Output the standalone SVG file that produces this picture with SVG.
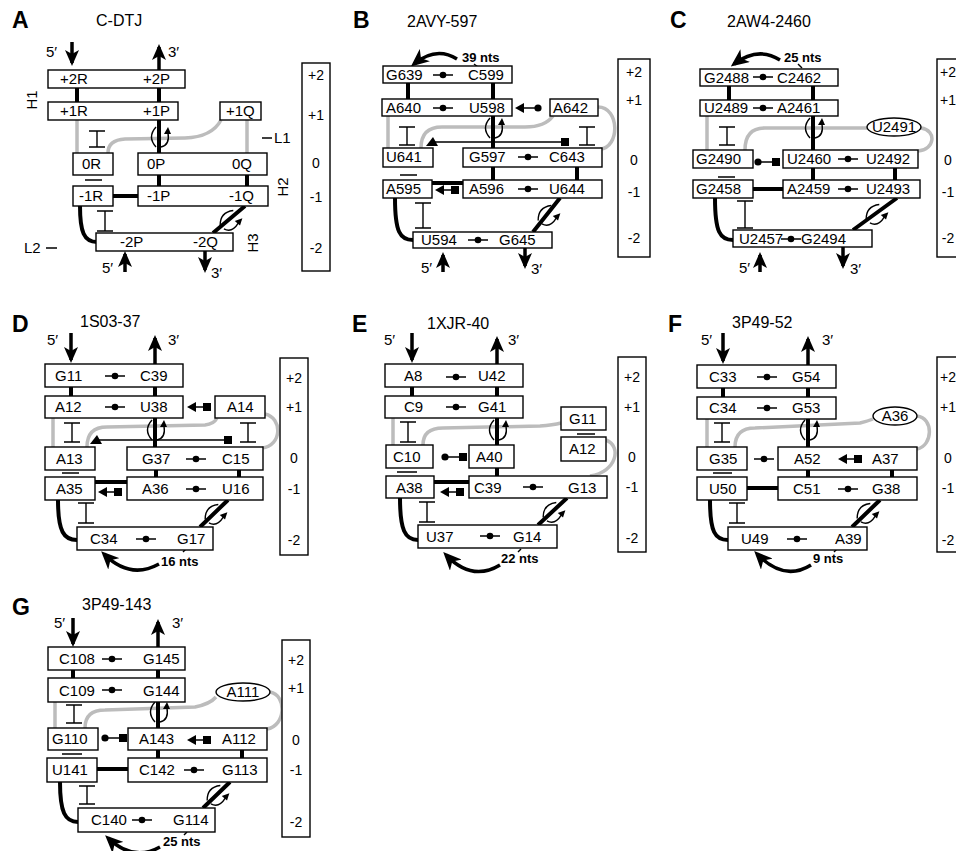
<svg xmlns="http://www.w3.org/2000/svg" width="956" height="851" viewBox="0 0 956 851">
<defs>
<style>
.b{fill:#fff;stroke:#000;stroke-width:1.4}
.t{font-family:"Liberation Sans",Arial,Helvetica,sans-serif;font-size:15px;fill:#000}
.ti{font-family:"Liberation Sans",Arial,Helvetica,sans-serif;font-size:16px;fill:#000}
.m{text-anchor:middle}
.s{font-family:"Liberation Sans",Arial,sans-serif;font-size:14px;fill:#000;text-anchor:middle}
.L{font-family:"Liberation Sans",Arial,sans-serif;font-size:23px;font-weight:bold;fill:#000}
.n{font-family:"Liberation Sans",Arial,sans-serif;font-size:13px;font-weight:bold;fill:#000}
.k{fill:none;stroke:#000;stroke-width:4}
.g{fill:none;stroke:#bcbcbc;stroke-width:3.5}
.h{fill:none;stroke:#000;stroke-width:1.4}
.a{fill:none;stroke:#000;stroke-width:3.5;marker-end:url(#ah)}
.c{fill:none;stroke:#000;stroke-width:3.5;marker-end:url(#ah2)}
</style>
<marker id="ah" viewBox="0 0 16 14" refX="13" refY="7" markerWidth="16" markerHeight="14" markerUnits="userSpaceOnUse" orient="auto"><path d="M0,0 L16,7 L0,14 L4,7 Z"/></marker>
<marker id="ah2" viewBox="0 0 18 16" refX="14" refY="8" markerWidth="18" markerHeight="16" markerUnits="userSpaceOnUse" orient="auto"><path d="M0,0 L18,8 L0,16 L5,8 Z"/></marker>
<g id="bp"><line x1="-10" x2="10" stroke="#000" stroke-width="1.5"/><circle r="3.3"/></g>
<g id="ac"><path d="M0,0 L9,-5 L9,5 Z"/><line x1="8" x2="23" stroke="#000" stroke-width="1.5"/><circle cx="23" r="3.6"/></g>
<g id="as"><path d="M0,0 L9,-5 L9,5 Z"/><line x1="8" x2="17" stroke="#000" stroke-width="1.5"/><rect x="16" y="-4" width="8" height="8"/></g>
<g id="cs"><circle r="3.6"/><line x2="15" stroke="#000" stroke-width="1.5"/><rect x="14" y="-4" width="8" height="8"/></g>
<g id="cr" fill="none" stroke="#000" stroke-width="1.4"><path d="M-3,-10 Q-12,0 -3,10"/><path d="M2,10 Q11,8 9,-4"/><path d="M9,-10 L5,-3 L12,-3 Z" fill="#000" stroke="none"/></g>
</defs>
<rect width="956" height="851" fill="#fff"/>

<!-- ================= PANEL A ================= -->
<g id="panelA">
<g id="A-connectors">
<path class="g" d="M77,120 V153 M221,120 Q212,137 185,138 L125,139 Q108,140 108,153 M247,120 V153"/>
<path class="k" d="M77,88 V102 M159,88 V102 M159,120 V153 M159,175 V186 M247,175 V186 M113,196 H138 M80,206 C80,232 84,242 97,242 M245,206 L213,233"/>
<path class="h" d="M89,131 H105 M97,131 V147 M89,147 H105 M85,180 H102 M97,211 H113 M105,211 V231 M97,231 H113 M262,138 H272 M46,248 H57"/>
<path class="a" d="M72,42 V63"/>
<path class="a" d="M159,70 V47"/>
<path class="a" d="M125,272 V254"/>
<path class="a" d="M205,251 V270"/>
<use href="#cr" x="159" y="137"/>
<use href="#cr" transform="translate(229,220) rotate(41)"/>
</g>
<text class="L" x="12" y="28">A</text>
<text class="ti" x="96" y="26">C-DTJ</text>
<text class="t" x="46" y="57">5′</text>
<text class="t" x="168" y="57">3′</text>
<text class="t" x="102" y="273">5′</text>
<text class="t" x="211" y="278">3′</text>
<text class="t" x="274" y="143">L1</text>
<text class="t" x="24" y="253">L2</text>
<text class="t m" transform="translate(37,100) rotate(-90)">H1</text>
<text class="t m" transform="translate(288,187) rotate(-90)">H2</text>
<text class="t m" transform="translate(258,243) rotate(-90)">H3</text>
<g id="A-p2"><rect class="b" x="48" y="70" width="137" height="18"/><text class="t" x="60" y="84">+2R</text><text class="t" x="143" y="84">+2P</text></g>
<g id="A-p1"><rect class="b" x="48" y="102" width="130" height="18"/><text class="t" x="60" y="116">+1R</text><text class="t" x="143" y="116">+1P</text></g>
<g id="A-p1Q"><rect class="b" x="220" y="102" width="41" height="18"/><text class="t" x="226" y="116">+1Q</text></g>
<g id="A-0R"><rect class="b" x="73" y="153" width="40" height="22"/><text class="t" x="82" y="169">0R</text></g>
<g id="A-0PQ"><rect class="b" x="138" y="153" width="129" height="22"/><text class="t" x="147" y="169">0P</text><text class="t" x="232" y="169">0Q</text></g>
<g id="A-m1R"><rect class="b" x="73" y="186" width="40" height="20"/><text class="t" x="79" y="201">-1R</text></g>
<g id="A-m1PQ"><rect class="b" x="138" y="186" width="130" height="20"/><text class="t" x="147" y="201">-1P</text><text class="t" x="229" y="201">-1Q</text></g>
<g id="A-m2"><rect class="b" x="96" y="233" width="137" height="18"/><text class="t" x="120" y="247">-2P</text><text class="t" x="193" y="247">-2Q</text></g>
<g id="A-levels"><rect class="b" x="302" y="63" width="28" height="208"/><text class="s" x="316" y="80">+2</text><text class="s" x="316" y="120">+1</text><text class="s" x="316" y="168">0</text><text class="s" x="316" y="202">-1</text><text class="s" x="316" y="253">-2</text></g>
</g>

<!-- ================= PANEL B ================= -->
<g id="panelB">
<g id="B-connectors">
<path class="g" d="M388,116 V148 M421,148 Q421,127 442,127 L525,127 Q545,127 553,116 M598,107 C620,107 620,148 600,149"/>
<path class="k" d="M408,83 V99 M493,83 V99 M493,116 V148 M493,167 V180 M577,167 V180 M432,183 H463 M395,198 C395,232 400,240 413,240 M560,198 L533,232"/>
<path class="h" d="M399,127 H415 M407,127 V145 M399,145 H415 M579,127 H595 M587,127 V145 M579,145 H595 M434,142 H562 M400,175 H417 M415,203 H431 M423,203 V228 M415,228 H431"/>
<rect x="561" y="138" width="8" height="8"/>
<polygon points="426,146 438,146 433,137"/>
<path class="c" d="M457,59 Q436,46 414,64"/>
<path class="h" d="M474,64 L478,67"/>
<path class="a" d="M443,272 V255"/>
<path class="a" d="M525,248 V266"/>
<use href="#ac" x="515" y="108"/>
<use href="#as" x="435" y="190"/>
<use href="#cr" x="493" y="128"/>
<use href="#cr" transform="translate(547,215) rotate(41)"/>
</g>
<text class="L" x="353" y="28">B</text>
<text class="ti" x="407" y="27">2AVY-597</text>
<text class="n" x="462" y="62">39 nts</text>
<text class="t" x="421" y="273">5′</text>
<text class="t" x="531" y="274">3′</text>
<g id="B-p2"><rect class="b" x="383" y="66" width="129" height="17"/><text class="t" x="386" y="80">G639</text><use href="#bp" x="443" y="75"/><text class="t" x="468" y="80">C599</text></g>
<g id="B-p1"><rect class="b" x="382" y="99" width="130" height="17"/><text class="t" x="386" y="113">A640</text><use href="#bp" x="443" y="108"/><text class="t" x="469" y="113">U598</text></g>
<g id="B-A642"><rect class="b" x="550" y="99" width="48" height="17"/><text class="t" x="553" y="113">A642</text></g>
<g id="B-U641"><rect class="b" x="383" y="148" width="50" height="19"/><text class="t" x="386" y="162">U641</text></g>
<g id="B-0"><rect class="b" x="463" y="148" width="139" height="19"/><text class="t" x="469" y="162">G597</text><use href="#bp" x="528" y="157"/><text class="t" x="549" y="162">C643</text></g>
<g id="B-A595"><rect class="b" x="383" y="180" width="49" height="18"/><text class="t" x="386" y="194">A595</text></g>
<g id="B-m1"><rect class="b" x="463" y="180" width="139" height="18"/><text class="t" x="469" y="194">A596</text><use href="#bp" x="528" y="189"/><text class="t" x="549" y="194">U644</text></g>
<g id="B-m2"><rect class="b" x="413" y="232" width="139" height="16"/><text class="t" x="421" y="245">U594</text><use href="#bp" x="478" y="240"/><text class="t" x="499" y="245">G645</text></g>
<g id="B-levels"><rect class="b" x="618" y="59" width="32" height="198"/><text class="s" x="634" y="77">+2</text><text class="s" x="634" y="105">+1</text><text class="s" x="634" y="165">0</text><text class="s" x="634" y="197">-1</text><text class="s" x="634" y="243">-2</text></g>
</g>

<!-- ================= PANEL C ================= -->
<g id="panelC">
<g id="C-connectors">
<path class="g" d="M707,116 V150 M745,150 Q745,128 765,128 L867,128 M921,128 C937,130 935,150 918,151"/>
<path class="k" d="M729,86 V100 M813,86 V100 M813,116 V150 M813,168 V180 M895,168 V180 M753,189 H783 M715,198 C715,232 720,240 733,240 M897,198 L853,230"/>
<path class="h" d="M719,127 H735 M727,127 V145 M719,145 H735 M718,177 H735 M737,201 H753 M745,201 V228 M737,228 H753"/>
<path class="c" d="M780,60 Q758,46 734,64"/>
<path class="h" d="M798,64 L802,68"/>
<path class="a" d="M760,272 V255"/>
<path class="a" d="M843,247 V266"/>
<use href="#cs" x="758" y="162"/>
<use href="#cr" x="813" y="128"/>
<use href="#cr" transform="translate(875,214) rotate(41)"/>
</g>
<text class="L" x="670" y="28">C</text>
<text class="ti" x="727" y="27">2AW4-2460</text>
<text class="n" x="784" y="62">25 nts</text>
<text class="t" x="739" y="273">5′</text>
<text class="t" x="850" y="274">3′</text>
<g id="C-p2"><rect class="b" x="700" y="69" width="138" height="17"/><text class="t" x="704" y="83">G2488</text><use href="#bp" x="763" y="77"/><text class="t" x="777" y="83">C2462</text></g>
<g id="C-p1"><rect class="b" x="700" y="100" width="138" height="16"/><text class="t" x="704" y="113">U2489</text><use href="#bp" x="763" y="108"/><text class="t" x="777" y="113">A2461</text></g>
<g id="C-U2491"><ellipse class="b" cx="894" cy="127" rx="27" ry="9"/><text class="t m" x="894" y="132">U2491</text></g>
<g id="C-G2490"><rect class="b" x="693" y="150" width="60" height="18"/><text class="t" x="696" y="164">G2490</text></g>
<g id="C-0"><rect class="b" x="783" y="150" width="135" height="18"/><text class="t" x="787" y="164">U2460</text><use href="#bp" x="848" y="159"/><text class="t" x="866" y="164">U2492</text></g>
<g id="C-G2458"><rect class="b" x="693" y="180" width="60" height="18"/><text class="t" x="696" y="194">G2458</text></g>
<g id="C-m1"><rect class="b" x="783" y="180" width="137" height="18"/><text class="t" x="787" y="194">A2459</text><use href="#bp" x="848" y="189"/><text class="t" x="866" y="194">U2493</text></g>
<g id="C-m2"><rect class="b" x="733" y="230" width="139" height="17"/><text class="t" x="739" y="244">U2457</text><use href="#bp" x="791" y="239"/><text class="t" x="801" y="244">G2494</text></g>
<g id="C-levels"><rect class="b" x="937" y="59" width="40" height="198"/><text class="s" x="948" y="77">+2</text><text class="s" x="948" y="105">+1</text><text class="s" x="948" y="165">0</text><text class="s" x="948" y="197">-1</text><text class="s" x="948" y="243">-2</text></g>
</g>

<!-- ================= PANEL D ================= -->
<g id="panelD">
<g id="D-connectors">
<path class="g" d="M53,418 V447 M87,447 Q87,427 107,427 L205,425 Q214,424 217,418 M265,414 C283,418 282,446 262,448"/>
<path class="k" d="M71,387 V396 M155,387 V396 M155,418 V447 M156,470 V477 M239,470 V477 M95,482 H127 M58,500 C58,532 64,540 77,540 M228,500 L200,527"/>
<path class="h" d="M64,423 H80 M72,423 V442 M64,442 H80 M240,423 H256 M248,423 V442 M240,442 H256 M97,440 H225 M62,473 H79 M78,503 H94 M86,503 V523 M78,523 H94"/>
<rect x="224" y="436" width="8" height="8"/>
<polygon points="90,444 102,444 97,435"/>
<path class="a" d="M71,333 V360"/>
<path class="a" d="M155,364 V338"/>
<path class="c" d="M159,564 Q130,580 104,554"/>
<path class="h" d="M183,552 L186,549"/>
<use href="#as" x="187" y="407"/>
<use href="#as" x="98" y="492"/>
<use href="#cr" x="155" y="430"/>
<use href="#cr" transform="translate(214,514) rotate(41)"/>
</g>
<text class="L" x="12" y="332">D</text>
<text class="ti" x="80" y="327">1S03-37</text>
<text class="t" x="47" y="345">5′</text>
<text class="t" x="168" y="345">3′</text>
<text class="n" x="161" y="566">16 nts</text>
<g id="D-p2"><rect class="b" x="45" y="364" width="138" height="23"/><text class="t" x="55" y="381">G11</text><use href="#bp" x="115" y="376"/><text class="t" x="140" y="381">C39</text></g>
<g id="D-p1"><rect class="b" x="45" y="396" width="138" height="22"/><text class="t" x="55" y="412">A12</text><use href="#bp" x="115" y="407"/><text class="t" x="140" y="412">U38</text></g>
<g id="D-A14"><rect class="b" x="215" y="396" width="50" height="22"/><text class="t" x="227" y="412">A14</text></g>
<g id="D-A13"><rect class="b" x="45" y="447" width="50" height="23"/><text class="t" x="56" y="464">A13</text></g>
<g id="D-0"><rect class="b" x="127" y="447" width="136" height="23"/><text class="t" x="142" y="464">G37</text><use href="#bp" x="196" y="459"/><text class="t" x="222" y="464">C15</text></g>
<g id="D-A35"><rect class="b" x="45" y="477" width="50" height="23"/><text class="t" x="56" y="494">A35</text></g>
<g id="D-m1"><rect class="b" x="127" y="477" width="136" height="23"/><text class="t" x="142" y="494">A36</text><use href="#bp" x="196" y="489"/><text class="t" x="222" y="494">U16</text></g>
<g id="D-m2"><rect class="b" x="77" y="527" width="136" height="23"/><text class="t" x="90" y="544">C34</text><use href="#bp" x="146" y="539"/><text class="t" x="177" y="544">G17</text></g>
<g id="D-levels"><rect class="b" x="280" y="358" width="28" height="197"/><text class="s" x="294" y="383">+2</text><text class="s" x="294" y="412">+1</text><text class="s" x="294" y="463">0</text><text class="s" x="294" y="494">-1</text><text class="s" x="294" y="545">-2</text></g>
</g>

<!-- ================= PANEL E ================= -->
<g id="panelE">
<g id="E-connectors">
<path class="g" d="M393,418 V445 M423,445 Q423,428 443,428 L540,426 Q553,425 561,423 M606,440 C622,446 617,472 590,476"/>
<path class="k" d="M412,387 V396 M497,387 V396 M497,418 V445 M497,468 V476 M434,482 H469 M400,498 C400,530 405,540 418,540 M567,498 L538,525"/>
<path class="h" d="M400,422 H416 M408,422 V442 M400,442 H416 M577,434 H595 M397,472 H417 M419,502 H435 M427,502 V522 M419,522 H435"/>
<path class="a" d="M412,333 V360"/>
<path class="a" d="M497,364 V339"/>
<path class="c" d="M500,565 Q472,582 446,555"/>
<path class="h" d="M518,552 L521,549"/>
<use href="#cs" x="445" y="457"/>
<use href="#as" x="440" y="492"/>
<use href="#cr" x="497" y="430"/>
<use href="#cr" transform="translate(552,512) rotate(41)"/>
</g>
<text class="L" x="352" y="332">E</text>
<text class="ti" x="427" y="329">1XJR-40</text>
<text class="t" x="384" y="345">5′</text>
<text class="t" x="508" y="345">3′</text>
<text class="n" x="501" y="563">22 nts</text>
<g id="E-p2"><rect class="b" x="385" y="364" width="138" height="23"/><text class="t" x="404" y="381">A8</text><use href="#bp" x="456" y="377"/><text class="t" x="478" y="381">U42</text></g>
<g id="E-p1"><rect class="b" x="385" y="396" width="138" height="22"/><text class="t" x="404" y="412">C9</text><use href="#bp" x="456" y="407"/><text class="t" x="478" y="412">G41</text></g>
<g id="E-G11"><rect class="b" x="561" y="407" width="45" height="23"/><text class="t" x="569" y="424">G11</text></g>
<g id="E-A12"><rect class="b" x="561" y="437" width="45" height="24"/><text class="t" x="569" y="454">A12</text></g>
<g id="E-C10"><rect class="b" x="386" y="445" width="47" height="23"/><text class="t" x="393" y="462">C10</text></g>
<g id="E-A40"><rect class="b" x="469" y="445" width="45" height="23"/><text class="t" x="476" y="462">A40</text></g>
<g id="E-A38"><rect class="b" x="386" y="476" width="48" height="22"/><text class="t" x="396" y="493">A38</text></g>
<g id="E-m1"><rect class="b" x="469" y="476" width="138" height="22"/><text class="t" x="474" y="493">C39</text><use href="#bp" x="533" y="487"/><text class="t" x="568" y="493">G13</text></g>
<g id="E-m2"><rect class="b" x="418" y="525" width="139" height="23"/><text class="t" x="426" y="542">U37</text><use href="#bp" x="490" y="536"/><text class="t" x="513" y="542">G14</text></g>
<g id="E-levels"><rect class="b" x="618" y="357" width="28" height="195"/><text class="s" x="632" y="382">+2</text><text class="s" x="632" y="412">+1</text><text class="s" x="632" y="462">0</text><text class="s" x="632" y="492">-1</text><text class="s" x="632" y="543">-2</text></g>
</g>

<!-- ================= PANEL F ================= -->
<g id="panelF">
<g id="F-connectors">
<path class="g" d="M707,419 V447 M735,447 Q735,428 755,428 L860,423 Q868,421 873,419 M917,416 C934,418 933,446 917,449"/>
<path class="k" d="M723,388 V397 M808,388 V397 M808,419 V447 M808,470 V477 M892,470 V477 M747,488 H778 M710,500 C710,532 715,540 728,540 M880,500 L852,527"/>
<path class="h" d="M714,423 H730 M722,423 V442 M714,442 H730 M713,473 H732 M729,503 H745 M737,503 V523 M729,523 H745"/>
<path class="a" d="M723,333 V361"/>
<path class="a" d="M808,365 V339"/>
<path class="c" d="M811,565 Q784,582 757,554"/>
<path class="h" d="M834,552 L837,549"/>
<use href="#bp" x="764" y="459"/>
<use href="#cr" x="808" y="430"/>
<use href="#cr" transform="translate(866,513) rotate(41)"/>
</g>
<text class="L" x="668" y="332">F</text>
<text class="ti" x="732" y="328">3P49-52</text>
<text class="t" x="701" y="345">5′</text>
<text class="t" x="822" y="345">3′</text>
<text class="n" x="813" y="563">9 nts</text>
<g id="F-p2"><rect class="b" x="697" y="365" width="139" height="23"/><text class="t" x="709" y="382">C33</text><use href="#bp" x="767" y="377"/><text class="t" x="792" y="382">G54</text></g>
<g id="F-p1"><rect class="b" x="697" y="397" width="139" height="22"/><text class="t" x="709" y="413">C34</text><use href="#bp" x="767" y="408"/><text class="t" x="792" y="413">G53</text></g>
<g id="F-A36"><ellipse class="b" cx="895" cy="416" rx="22" ry="9"/><text class="t m" x="895" y="421">A36</text></g>
<g id="F-G35"><rect class="b" x="697" y="447" width="50" height="23"/><text class="t" x="709" y="464">G35</text></g>
<g id="F-0"><rect class="b" x="778" y="447" width="139" height="23"/><text class="t" x="794" y="464">A52</text><use href="#as" x="838" y="459"/><text class="t" x="872" y="464">A37</text></g>
<g id="F-U50"><rect class="b" x="697" y="477" width="50" height="23"/><text class="t" x="709" y="494">U50</text></g>
<g id="F-m1"><rect class="b" x="778" y="477" width="139" height="23"/><text class="t" x="793" y="494">C51</text><use href="#bp" x="848" y="489"/><text class="t" x="872" y="494">G38</text></g>
<g id="F-m2"><rect class="b" x="728" y="527" width="139" height="23"/><text class="t" x="741" y="544">U49</text><use href="#bp" x="797" y="539"/><text class="t" x="835" y="544">A39</text></g>
<g id="F-levels"><rect class="b" x="937" y="357" width="40" height="195"/><text class="s" x="948" y="382">+2</text><text class="s" x="948" y="412">+1</text><text class="s" x="948" y="463">0</text><text class="s" x="948" y="493">-1</text><text class="s" x="948" y="545">-2</text></g>
</g>

<!-- ================= PANEL G ================= -->
<g id="panelG">
<g id="G-connectors">
<path class="g" d="M55,702 V728 M85,728 Q85,710 105,710 L195,707 Q210,704 216,697 M270,692 C287,695 286,726 267,729"/>
<path class="k" d="M73,670 V678 M158,670 V678 M158,702 V728 M158,750 V758 M242,750 V758 M97,769 H128 M60,782 C60,812 65,822 78,822 M230,782 L203,808"/>
<path class="h" d="M66,705 H82 M74,705 V723 M66,723 H82 M62,754 H82 M79,786 H95 M87,786 V804 M79,804 H95"/>
<path class="a" d="M73,618 V644"/>
<path class="a" d="M158,647 V622"/>
<path class="c" d="M160,847 Q133,862 108,838"/>
<path class="h" d="M184,835 L187,832"/>
<use href="#cs" x="105" y="738"/>
<use href="#cr" x="158" y="712"/>
<use href="#cr" transform="translate(216,795) rotate(41)"/>
</g>
<text class="L" x="12" y="615">G</text>
<text class="ti" x="82" y="610">3P49-143</text>
<text class="t" x="54" y="628">5′</text>
<text class="t" x="172" y="628">3′</text>
<text class="n" x="163" y="846">25 nts</text>
<g id="G-p2"><rect class="b" x="48" y="647" width="137" height="23"/><text class="t" x="59" y="664">C108</text><use href="#bp" x="112" y="659"/><text class="t" x="143" y="664">G145</text></g>
<g id="G-p1"><rect class="b" x="48" y="678" width="137" height="24"/><text class="t" x="59" y="696">C109</text><use href="#bp" x="112" y="690"/><text class="t" x="143" y="696">G144</text></g>
<g id="G-A111"><ellipse class="b" cx="243" cy="692" rx="27" ry="9"/><text class="t m" x="243" y="697">A111</text></g>
<g id="G-G110"><rect class="b" x="48" y="728" width="50" height="22"/><text class="t" x="52" y="744">G110</text></g>
<g id="G-0"><rect class="b" x="128" y="728" width="139" height="22"/><text class="t" x="139" y="744">A143</text><use href="#as" x="187" y="740"/><text class="t" x="222" y="744">A112</text></g>
<g id="G-U141"><rect class="b" x="47" y="758" width="50" height="24"/><text class="t" x="52" y="775">U141</text></g>
<g id="G-m1"><rect class="b" x="128" y="758" width="139" height="24"/><text class="t" x="139" y="775">C142</text><use href="#bp" x="194" y="770"/><text class="t" x="222" y="775">G113</text></g>
<g id="G-m2"><rect class="b" x="78" y="808" width="137" height="24"/><text class="t" x="91" y="825">C140</text><use href="#bp" x="142" y="820"/><text class="t" x="173" y="825">G114</text></g>
<g id="G-levels"><rect class="b" x="282" y="640" width="28" height="197"/><text class="s" x="296" y="665">+2</text><text class="s" x="296" y="693">+1</text><text class="s" x="296" y="745">0</text><text class="s" x="296" y="775">-1</text><text class="s" x="296" y="827">-2</text></g>
</g>
</svg>
